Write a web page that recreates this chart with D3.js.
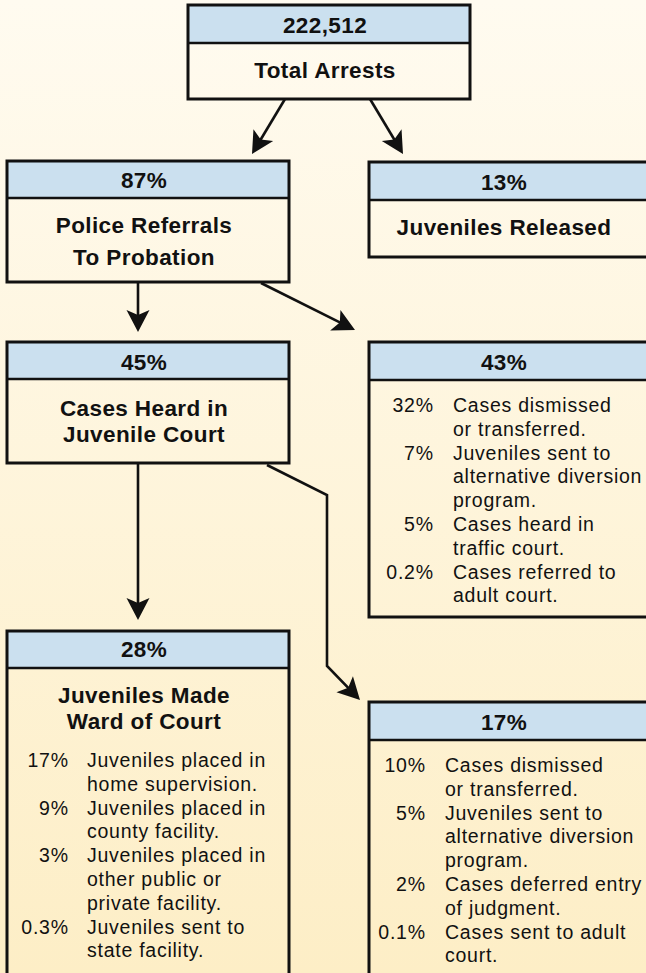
<!DOCTYPE html>
<html lang="en">
  <head>
    <meta charset="utf-8">
    <title>Juvenile arrests flow</title>
    <style>
     html, body { margin: 0; padding: 0; }
     body { width: 646px; height: 973px; overflow: hidden; }
     svg { display: block; }
     .head { font: bold 22.5px "Liberation Sans", Arial, Helvetica, sans-serif; letter-spacing: 0.4px; fill: #111; }
     .item { font: 19.5px "Liberation Sans", Arial, Helvetica, sans-serif; letter-spacing: 0.75px; fill: #111; }
    </style>
  </head>
  <body>
    <div id="chart"></div>
    <script src="https://cdn.jsdelivr.net/npm/d3@7"></script>
    <script>
     // values
     var headers = ["222,512", "87%", "13%", "45%", "43%", "28%", "17%"];
     var titles = [["Total Arrests"], ["Police Referrals", "To Probation"], ["Juveniles Released"],
                   ["Cases Heard in", "Juvenile Court"], [], ["Juveniles Made", "Ward of Court"], []];

     var pct43 = ["32%", "7%", "5%", "0.2%"];
     var txt43 = [["Cases dismissed", "or transferred."],
                  ["Juveniles sent to", "alternative diversion", "program."],
                  ["Cases heard in", "traffic court."],
                  ["Cases referred to", "adult court."]];

     var pct28 = ["17%", "9%", "3%", "0.3%"];
     var txt28 = [["Juveniles placed in", "home supervision."],
                  ["Juveniles placed in", "county facility."],
                  ["Juveniles placed in", "other public or", "private facility."],
                  ["Juveniles sent to", "state facility."]];

     var pct17 = ["10%", "5%", "2%", "0.1%"];
     var txt17 = [["Cases dismissed", "or transferred."],
                  ["Juveniles sent to", "alternative diversion", "program."],
                  ["Cases deferred entry", "of judgment."],
                  ["Cases sent to adult", "court."]];

     // layout (pixels): box frame, header band, baselines
     var W = 646, H = 973, boxW = 282;
     var layout = [
       {x: 188, y: 5,   hb: 43,  bottom: 99,  hy: 33,  ty: [78]},
       {x: 7,   y: 161, hb: 198, bottom: 282, hy: 188, ty: [233, 265]},
       {x: 369, y: 162, hb: 200, bottom: 257, hy: 190, ty: [235], tx: 504},
       {x: 7,   y: 342, hb: 379, bottom: 463, hy: 370, ty: [416, 442]},
       {x: 369, y: 342, hb: 380, bottom: 617, hy: 370, ty: [], tx: 504},
       {x: 7,   y: 631, hb: 668, bottom: 995, hy: 657, ty: [703, 729]},
       {x: 369, y: 702, hb: 740, bottom: 995, hy: 730, ty: [], tx: 504}
     ];
     var lists = [
       {box: 4, pct: pct43, txt: txt43, px: 433, dx: 453, y0: 412},
       {box: 5, pct: pct28, txt: txt28, px: 68,  dx: 87,  y0: 767},
       {box: 6, pct: pct17, txt: txt17, px: 425, dx: 445, y0: 772}
     ];
     var lineH = 23.8;

     var svg = d3.select("#chart").append("svg")
                 .attr("width", W).attr("height", H);

     var grad = svg.append("defs").append("linearGradient")
                   .attr("id", "bg").attr("x1", 0).attr("y1", 0).attr("x2", 0).attr("y2", 1);
     grad.append("stop").attr("offset", "0%").attr("stop-color", "#fffbf0");
     grad.append("stop").attr("offset", "100%").attr("stop-color", "#fdeec6");
     svg.append("rect").attr("width", W).attr("height", H).attr("fill", "url(#bg)");

     // arrows
     var b = layout;
     var arrows = [
       [[285, b[0].bottom], [252, b[1].y - 7]],
       [[370, b[0].bottom], [403, b[2].y - 8]],
       [[138, b[1].bottom], [138, b[3].y - 10]],
       [[261, b[1].bottom + 1], [355, b[4].y - 12]],
       [[138, b[3].bottom], [138, b[5].y - 11]],
       [[267, b[3].bottom + 2], [327, 495], [327, 666], [360, b[6].y - 2]]
     ];
     var line = d3.line();
     arrows.forEach(function (pts) {
       var n = pts.length,
           tip = pts[n - 1], prev = pts[n - 2],
           ang = Math.atan2(tip[1] - prev[1], tip[0] - prev[0]),
           cut = pts.slice(0, n - 1).concat([[tip[0] - 12 * Math.cos(ang), tip[1] - 12 * Math.sin(ang)]]);
       svg.append("path")
          .attr("d", line(cut))
          .attr("fill", "none")
          .attr("stroke", "#111")
          .attr("stroke-width", 2.6)
          .attr("stroke-linejoin", "miter");
       svg.append("path")
          .attr("d", "M0,0 L-22,-11.5 L-17,0 L-22,11.5 Z")
          .attr("fill", "#111")
          .attr("transform", "translate(" + tip[0] + "," + tip[1] + ") rotate(" + (ang * 180 / Math.PI) + ")");
     });

     // boxes
     var g = svg.selectAll("g.box").data(layout).enter().append("g").attr("class", "box");
     g.append("rect")
      .attr("x", function (d) { return d.x; })
      .attr("y", function (d) { return d.y; })
      .attr("width", boxW)
      .attr("height", function (d) { return d.hb - d.y; })
      .attr("fill", "#cbe0ef");
     g.append("line")
      .attr("x1", function (d) { return d.x; })
      .attr("x2", function (d) { return d.x + boxW; })
      .attr("y1", function (d) { return d.hb; })
      .attr("y2", function (d) { return d.hb; })
      .attr("stroke", "#111").attr("stroke-width", 2.4);
     g.append("rect")
      .attr("x", function (d) { return d.x; })
      .attr("y", function (d) { return d.y; })
      .attr("width", boxW)
      .attr("height", function (d) { return d.bottom - d.y; })
      .attr("fill", "none")
      .attr("stroke", "#111").attr("stroke-width", 3);

     g.append("text")
      .attr("class", "head")
      .attr("text-anchor", "middle")
      .attr("x", function (d) { return d.tx || d.x + 137; })
      .attr("y", function (d) { return d.hy; })
      .text(function (d, i) { return headers[i]; });

     g.each(function (d, i) {
       d3.select(this).selectAll("text.title")
         .data(titles[i]).enter().append("text")
         .attr("class", "head title")
         .attr("text-anchor", "middle")
         .attr("x", d.tx || d.x + 137)
         .attr("y", function (t, k) { return d.ty[k]; })
         .text(function (t) { return t; });
     });

     // itemised breakdowns
     lists.forEach(function (L) {
       var row = 0;
       L.pct.forEach(function (p, k) {
         svg.append("text").attr("class", "item")
            .attr("text-anchor", "end")
            .attr("x", L.px + 0.75)
            .attr("y", L.y0 + row * lineH)
            .text(p);
         L.txt[k].forEach(function (t) {
           svg.append("text").attr("class", "item")
              .attr("x", L.dx)
              .attr("y", L.y0 + row * lineH)
              .text(t);
           row += 1;
         });
       });
     });
    </script>
  </body>
</html>
